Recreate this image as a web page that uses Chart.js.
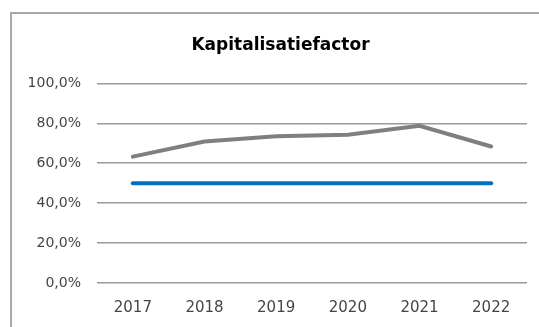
<!DOCTYPE html>
<html>
<head>
<meta charset="utf-8">
<script src="https://cdn.jsdelivr.net/npm/chart.js@4.4.0/dist/chart.umd.min.js"></script>
<style>
    html, body { margin: 0; padding: 0; width: 539px; height: 327px; overflow: hidden; background: #fff; }
    #box {
        position: absolute; left: 10px; top: 12px; width: 540px; height: 340px;
        border-left: 2px solid #a9a9a9; border-top: 2px solid #a9a9a9;
    }
    #myChart { display: block; }
</style>
</head>
<body>
<div id="box"><canvas id="myChart" width="540" height="330"></canvas></div>
<script>
const years = ['2017', '2018', '2019', '2020', '2021', '2022'];
const kapitalisatie = [63.3, 70.9, 73.5, 74.3, 78.8, 68.4];
const norm = [50, 50, 50, 50, 50, 50];
const yTicks = [0, 20, 40, 60, 80, 100];

function pct(v) {
    return v.toFixed(1).replace('.', ',') + '%';
}

// y labels are wider than the axis box, so open up their clip area to the canvas edge
const labelRoom = {
    id: 'labelRoom',
    afterLayout(chart) {
        chart.scales.y.left = 0;
    }
};

const ctx = document.getElementById('myChart').getContext('2d');
new Chart(ctx, {
    type: 'line',
    data: {
        labels: years,
        datasets: [{
            data: kapitalisatie,
            borderColor: '#7f7f7f',
            borderWidth: 4,
            borderCapStyle: 'round',
            pointRadius: 0,
            tension: 0,
        }, {
            data: norm,
            borderColor: '#0070c0',
            borderWidth: 4,
            borderCapStyle: 'round',
            pointRadius: 0,
            tension: 0,
        }]
    },
    plugins: [labelRoom],
    options: {
        responsive: false,
        animation: false,
        // left padding keeps the title centred over the whole frame
        layout: { padding: { left: 22, right: 25, top: 0, bottom: 11 } },
        plugins: {
            legend: { display: false },
            tooltip: { enabled: false },
            title: {
                display: true,
                text: 'Kapitalisatiefactor',
                color: '#000',
                font: { family: 'DejaVu Sans', size: 17, weight: 'bold' },
                padding: { top: 21, bottom: 28 },
            }
        },
        scales: {
            x: {
                offset: true,
                grid: { display: false, drawTicks: false },
                border: { display: false },
                ticks: {
                    color: '#454545',
                    font: { family: 'DejaVu Sans', size: 15 },
                    padding: 16,
                    maxRotation: 0,
                }
            },
            y: {
                min: 0,
                max: 100,
                afterFit: axis => { axis.width = 63; },
                afterBuildTicks: axis => { axis.ticks = yTicks.map(v => ({ value: v })); },
                grid: { color: '#9a9a9a', lineWidth: 1.5, drawTicks: false },
                border: { display: false },
                ticks: {
                    color: '#454545',
                    font: { family: 'DejaVu Sans', size: 14 },
                    padding: 16,
                    callback: v => pct(v),
                }
            }
        }
    }
});
</script>
</body>
</html>
